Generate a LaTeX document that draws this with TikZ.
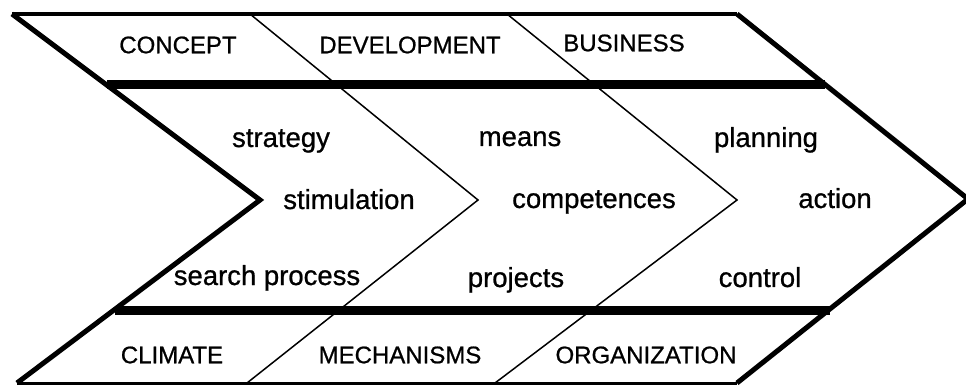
\documentclass[tikz,border=0pt]{standalone}
\usepackage{fontspec}
\setmainfont{Liberation Sans}
\newfontfamily\labelfont[FakeBold=0.8]{Liberation Sans}
\begin{document}
\begin{tikzpicture}[x=1pt,y=-1pt,
  capslabel/.style={font=\labelfont\fontsize{24}{24}\selectfont, inner sep=0pt},
  lowlabel/.style={font=\labelfont\fontsize{27.5}{27.5}\selectfont, inner sep=0pt, anchor=base},
  thinline/.style={line width=1.5pt, line join=miter},
  edgeline/.style={line width=5pt, line join=miter, line cap=butt},
  bandline/.style={line width=9pt},
  rimline/.style={line width=3.5pt}]
\useasboundingbox (0,0) rectangle (966,387);
\fill[white] (0,0) rectangle (966,387);
% corner coordinates
\coordinate (lt) at (12,14);
\coordinate (ltip) at (260,200);
\coordinate (lb) at (17,383);
\coordinate (rt) at (737,14);
\coordinate (rtip) at (968,199);
\coordinate (rb) at (737,383);
\coordinate (aT) at (250,14);
\coordinate (aTip) at (478,200);
\coordinate (aB) at (247,383);
\coordinate (bT) at (507,14);
\coordinate (bTip) at (737,200);
\coordinate (bB) at (495,383);
\coordinate (u1) at (107,85);
\coordinate (u2) at (825,85);
\coordinate (w1) at (115,310);
\coordinate (w2) at (830,310);
% thin chevrons
\draw[thinline] (aT) -- (aTip) -- (aB);
\draw[thinline] (bT) -- (bTip) -- (bB);
% thick bands
\draw[bandline] (u1) -- (u2);
\draw[bandline] (w1) -- (w2);
% top and bottom rims
\draw[rimline] (lt) -- (rt);
\draw[line width=3pt] (lb) -- (rb);
% outer chevron edges
\draw[edgeline] (lt) -- (ltip) -- (lb);
\draw[edgeline] (rt) -- (rtip) -- (rb);
% top labels
\node[capslabel] (concept) at (178,45) {CONCEPT};
\node[capslabel] (development) at (410,45) {DEVELOPMENT};
\node[capslabel] (business) at (624,43) {BUSINESS};
% middle labels
\node[lowlabel] (strategy) at (281,147) {strategy};
\node[lowlabel] (stimulation) at (349,209) {stimulation};
\node[lowlabel] (search) at (267,285) {search process};
\node[lowlabel] (means) at (520,146) {means};
\node[lowlabel] (competences) at (594,208) {competences};
\node[lowlabel] (projects) at (516,287) {projects};
\node[lowlabel] (planning) at (766,147) {planning};
\node[lowlabel] (action) at (835,208) {action};
\node[lowlabel] (control) at (760,287) {control};
% bottom labels
\node[capslabel] (climate) at (172,355) {CLIMATE};
\node[capslabel] (mechanisms) at (400,355) {MECHANISMS};
\node[capslabel] (organization) at (646,355) {ORGANIZATION};
\end{tikzpicture}
\end{document}
